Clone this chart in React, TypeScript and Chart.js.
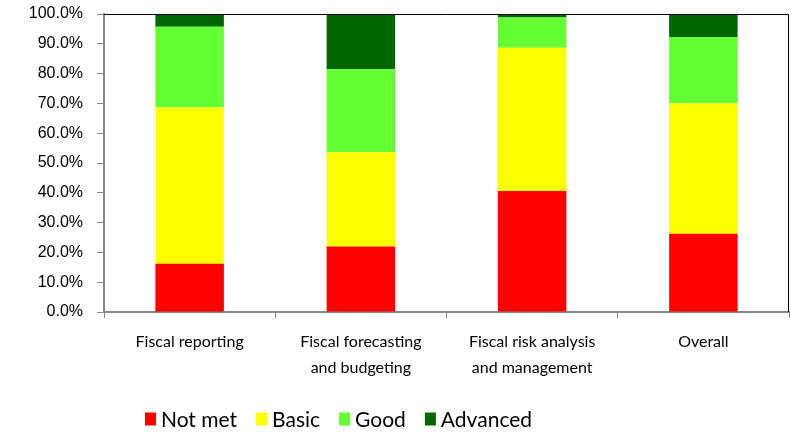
import React, { useEffect, useRef } from "react";
import { Chart, registerables } from "chart.js";

Chart.register(...registerables);

const categories: (string | string[])[] = [
  "Fiscal reporting",
  ["Fiscal forecasting", "and budgeting"],
  ["Fiscal risk analysis", "and management"],
  "Overall",
];
const notMet = [16.2, 22.0, 40.6, 26.3];
const basic = [52.4, 31.6, 48.1, 43.7];
const good = [27.1, 27.9, 10.1, 22.3];
const advanced = [4.3, 18.5, 1.2, 7.7];
const seriesLabels = ["Not met", "Basic", "Good", "Advanced"];
const seriesColors = ["#FF0000", "#FFFF00", "#66FF33", "#006600"];

const LATO = "Lato, 'Open Sans', sans-serif";
const REGULAR = "'Liberation Sans', Arial, sans-serif";
const X_FONT_SIZE = 16;

const framePlugin = {
  id: "frame",
  afterDraw(chart: any) {
    const { ctx, chartArea } = chart;
    ctx.save();
    ctx.strokeStyle = "#000000";
    ctx.lineWidth = 1;
    ctx.beginPath();
    ctx.moveTo(chartArea.left, chartArea.top + 0.5);
    ctx.lineTo(chartArea.right - 0.5, chartArea.top + 0.5);
    ctx.lineTo(chartArea.right - 0.5, chartArea.bottom);
    ctx.stroke();
    ctx.restore();
  },
};

const legendPlugin = {
  id: "customLegend",
  afterDraw(chart: any) {
    const { ctx } = chart;
    ctx.save();
    ctx.font = `21px ${LATO}`;
    ctx.textBaseline = "middle";
    const boxW = 11;
    const boxH = 13;
    const gapBoxText = 5;
    const gapItems = 19;
    const ds = chart.data.datasets;
    let total = 0;
    ds.forEach((d: any, i: number) => {
      total += boxW + gapBoxText + ctx.measureText(d.label).width;
      if (i < ds.length - 1) total += gapItems;
    });
    const centerX = 338.5;
    const cy = 419;
    let x = centerX - total / 2;
    ds.forEach((d: any) => {
      ctx.fillStyle = d.backgroundColor;
      ctx.fillRect(x, cy - boxH / 2, boxW, boxH);
      x += boxW + gapBoxText;
      ctx.fillStyle = "#000000";
      ctx.fillText(d.label, x, cy + 1);
      x += ctx.measureText(d.label).width + gapItems;
    });
    ctx.restore();
  },
};

export default function App() {
  const ref = useRef<HTMLCanvasElement>(null);
  useEffect(() => {
    if (!ref.current) return;
    const series = [notMet, basic, good, advanced];
    const chart = new Chart(ref.current, {
      type: "bar",
      data: {
        labels: categories as any,
        datasets: series.map((data, i) => ({
          label: seriesLabels[i],
          data,
          backgroundColor: seriesColors[i],
          borderWidth: 0,
          categoryPercentage: 1,
          barPercentage: 0.4,
        })),
      },
      options: {
        responsive: false,
        animation: false,
        layout: { padding: { top: 14, right: 2, left: 0, bottom: 0 } },
        plugins: {
          legend: { display: false },
          tooltip: { enabled: false },
        },
        scales: {
          x: {
            stacked: true,
            offset: true,
            grid: {
              offset: true,
              drawOnChartArea: false,
              drawTicks: true,
              tickLength: 6,
              color: "#868686",
            },
            border: { color: "#868686", width: 2 },
            ticks: {
              color: "#000000",
              font: { family: LATO, size: X_FONT_SIZE, lineHeight: 26 / X_FONT_SIZE },
              padding: 11,
              maxRotation: 0,
              autoSkip: false,
            },
            afterFit(scale: any) {
              scale.height = 123;
              scale.paddingLeft = 0;
              scale.paddingRight = 0;
            },
          },
          y: {
            stacked: true,
            min: 0,
            max: 100,
            grid: {
              drawOnChartArea: false,
              drawTicks: true,
              tickLength: 7,
              color: "#868686",
            },
            border: { color: "#868686", width: 2 },
            ticks: {
              stepSize: 10,
              color: "#000000",
              font: { family: REGULAR, size: 16 },
              padding: 14,
              callback: (v: any) => Number(v).toFixed(1) + "%",
            },
            afterFit(scale: any) {
              scale.width = 104;
              scale.paddingTop = 0;
              scale.paddingBottom = 0;
            },
          },
        },
      },
      plugins: [framePlugin, legendPlugin],
    });
    return () => chart.destroy();
  }, []);
  return (
    <div style={{ position: "absolute", left: 0, top: 0, width: 791, height: 435, background: "#fff" }}>
      <canvas ref={ref} width={791} height={435} style={{ display: "block" }} />
    </div>
  );
}
